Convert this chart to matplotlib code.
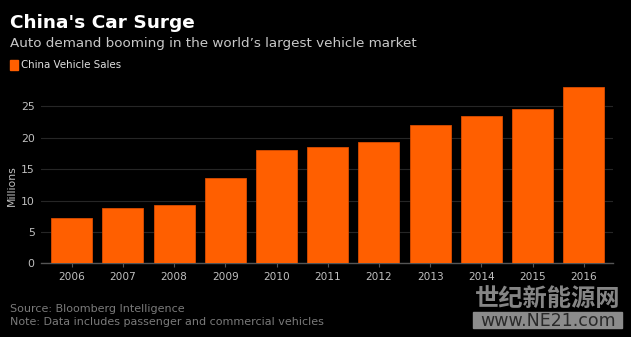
import matplotlib
matplotlib.use("Agg")
import matplotlib.pyplot as plt
from matplotlib.patches import Rectangle

plt.rcParams['font.family'] = ['DejaVu Sans', 'Noto Sans CJK SC']

years = ['2006', '2007', '2008', '2009', '2010', '2011', '2012', '2013', '2014', '2015', '2016']
sales = [7.2, 8.8, 9.3, 13.6, 18.1, 18.5, 19.3, 22.0, 23.5, 24.5, 28.0]
yticks = [0, 5, 10, 15, 20, 25]

W, H = 631, 337
fig = plt.figure(figsize=(W/100, H/100), dpi=100, facecolor='black')
ax = fig.add_axes([41/W, 1-263.3/H, (613-41)/W, (263.3-81.2)/H])
ax.set_facecolor('black')

x = list(range(len(years)))
ax.bar(x, sales, width=0.8, color='#ff5f00', edgecolor='#d94c00', linewidth=0.6, zorder=3)
ax.set_xlim(-0.6, len(years)-1+0.57)
ax.set_ylim(0, 29)
ax.set_yticks(yticks)
ax.set_yticklabels([str(t) for t in yticks])
ax.set_xticks(x)
ax.set_xticklabels(years)
ax.grid(axis='y', color='#262626', linewidth=0.8, zorder=0)
for s in ['top', 'right', 'left']:
    ax.spines[s].set_visible(False)
ax.spines['bottom'].set_color('#555555')
ax.spines['bottom'].set_linewidth(1.0)
ax.tick_params(axis='y', length=0, colors='#c0c0c0', labelsize=7.8, pad=4.5)
ax.tick_params(axis='x', length=3, color='#555555', colors='#c0c0c0', labelsize=7.6, pad=3)
fig.text(12/W, 1-186/H, 'Millions', color='#c0c0c0', fontsize=7.8, rotation=90, ha='center', va='center')

fig.text(10/W, 1-27.5/H, "China's Car Surge", color='white', fontsize=13.3, fontweight='bold', va='baseline')
fig.text(10/W, 1-47/H, "Auto demand booming in the world\u2019s largest vehicle market", color='#c8c8c8', fontsize=9.7, va='baseline')
fig.patches.append(Rectangle((10/W, 1-70/H), 8/W, 10/H, transform=fig.transFigure, color='#ff5f00'))
fig.text(21/W, 1-65/H, "China Vehicle Sales", color='#e0e0e0', fontsize=7.4, va='center')

fig.text(10/W, 1-312/H, "Source: Bloomberg Intelligence", color='#7a7a7a', fontsize=8, va='baseline')
fig.text(10/W, 1-325/H, "Note: Data includes passenger and commercial vehicles", color='#7a7a7a', fontsize=8, va='baseline')

fig.text(548/W, 1-299/H, "世纪新能源网", color='#858585', fontsize=17.5, fontweight='bold',
         ha='center', va='center', family=['Noto Sans CJK SC', 'DejaVu Sans'])
fig.patches.append(Rectangle((473/W, 1-328/H), 149/W, 16/H, transform=fig.transFigure, color='#8c8c8c'))
fig.text(548/W, 1-320.5/H, "www.NE21.com", color='#2a2a2a', fontsize=12.5, ha='center', va='center')

fig.savefig('out.png', dpi=100, facecolor='black')
